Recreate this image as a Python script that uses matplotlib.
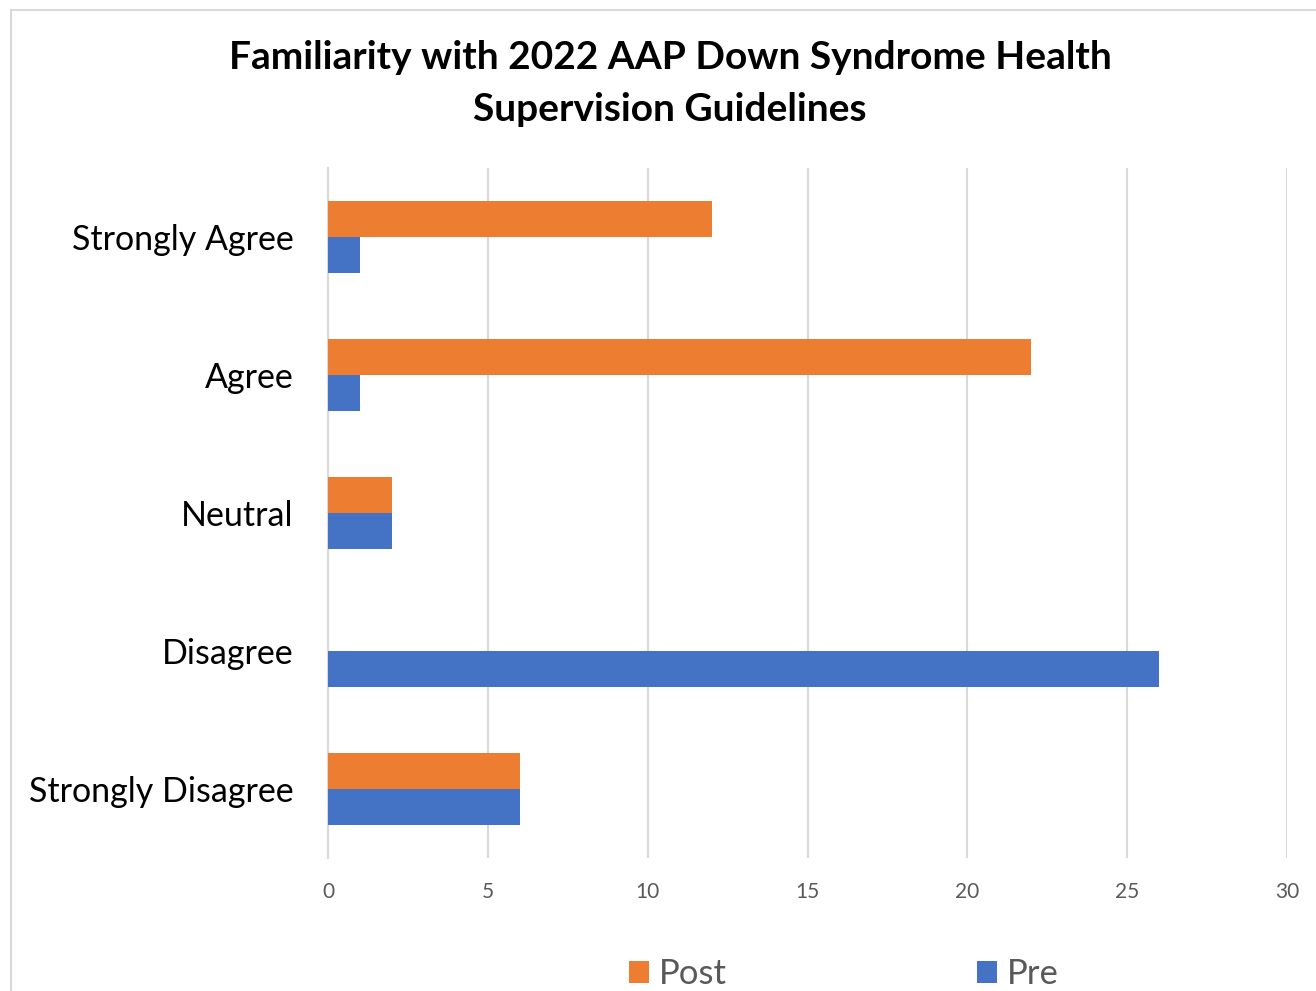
import numpy as np
import matplotlib.pyplot as plt
from matplotlib.lines import Line2D

# Survey responses (counts)
categories = ["Strongly Agree", "Agree", "Neutral", "Disagree", "Strongly Disagree"]
post = [12, 22, 2, 0, 6]
pre = [1, 1, 2, 26, 6]
x_ticks = [0, 5, 10, 15, 20, 25, 30]

plt.rcParams['font.family'] = ['Lato', 'DejaVu Sans']

fig = plt.figure(figsize=(13.16, 9.91), dpi=100)
ax = fig.add_axes([328 / 1316, 1 - 858 / 991, (1287 - 328) / 1316, (858 - 168) / 991])

y = np.arange(len(categories))
h = 0.26
b_post = ax.barh(y - h / 2, post, height=h, color="#ED7D31", linewidth=0,
                 label="Post", zorder=3)
b_pre = ax.barh(y + h / 2, pre, height=h, color="#4472C4", linewidth=0,
                label="Pre", zorder=3)

ax.set_xlim(0, 30)
ax.set_ylim(len(categories) - 0.5, -0.5)
ax.set_xticks(x_ticks)
ax.set_yticks(y)
ax.set_yticklabels(categories, fontsize=24.5, color="black")
ax.tick_params(axis="x", labelsize=15, colors="#595959", length=0, pad=17)
ax.tick_params(axis="y", length=0, pad=25)
ax.grid(axis="x", color="#D9D9D9", linewidth=1.5, zorder=0)
for s in ["top", "right", "bottom"]:
    ax.spines[s].set_visible(False)
ax.spines["left"].set_color("#D9D9D9")
ax.spines["left"].set_linewidth(1.5)

fig.suptitle("Familiarity with 2022 AAP Down Syndrome Health\nSupervision Guidelines",
             x=670 / 1316, y=1 - 40 / 991, fontsize=28, fontweight="bold",
             linespacing=1.6, va="top")

fig.legend(handles=[b_post, b_pre], loc="center", bbox_to_anchor=(844 / 1316, 1 - 974 / 991),
           ncol=2, frameon=False, fontsize=25, labelcolor="#595959",
           handlelength=0.58, handleheight=0.58, handletextpad=0.29, columnspacing=7.2)

# chart area border (clipped at right and bottom)
fig.add_artist(Line2D([11 / 1316, 1], [1 - 10 / 991, 1 - 10 / 991], transform=fig.transFigure,
                      color="#D9D9D9", linewidth=1.5))
fig.add_artist(Line2D([11 / 1316, 11 / 1316], [0, 1 - 10 / 991], transform=fig.transFigure,
                      color="#D9D9D9", linewidth=1.5))

fig.savefig("out.png", dpi=100, facecolor="white")
